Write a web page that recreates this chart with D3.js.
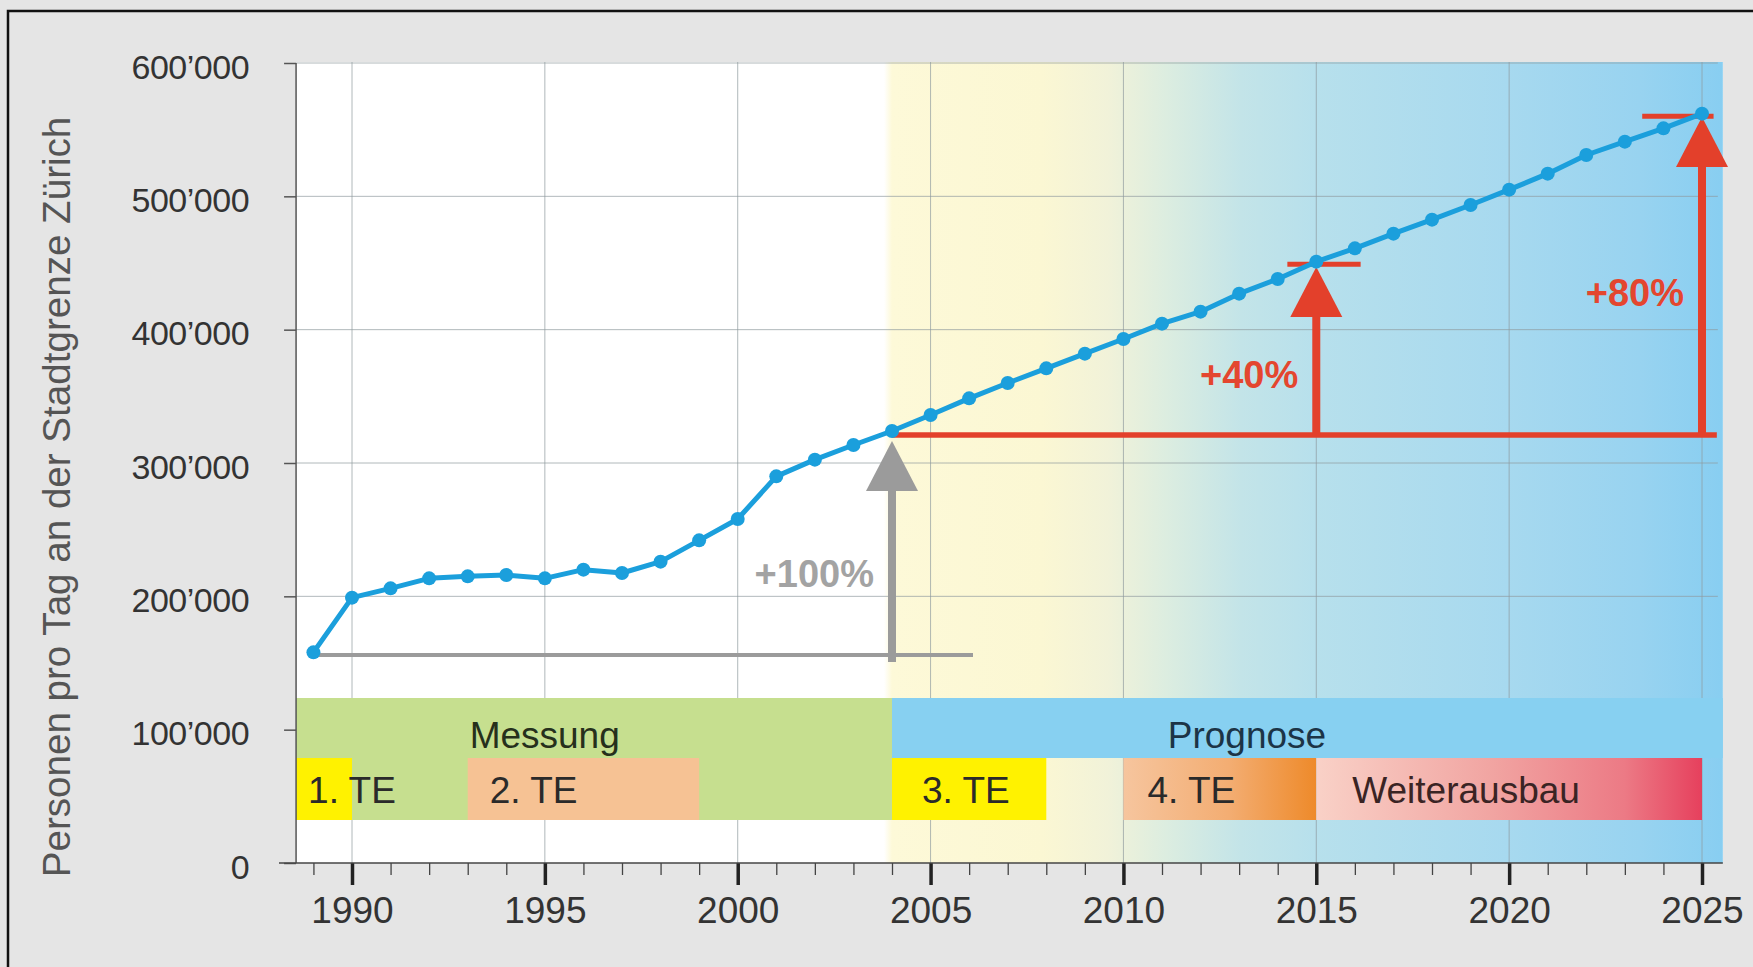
<!DOCTYPE html>
<html>
<head>
<meta charset="utf-8">
<script src="https://cdn.jsdelivr.net/npm/d3@7"></script>
<style>
  body { margin: 0; background: #e5e5e5; }
  svg { display: block; }
  text { font-family: "Liberation Sans", Arial, sans-serif; }
</style>
</head>
<body>
<div id="chart"></div>
<script>
// --- data ---
const years = d3.range(1989, 2026);
const persons = [158000, 199000, 206000, 213500, 215000, 216000, 213500, 220000, 217500, 226000,
  242000, 258000, 290000, 302500, 313500, 324000, 336000, 348500, 360000, 371000,
  382000, 393000, 404500, 413500, 427000, 438000, 451000, 461000, 472000, 482500,
  493500, 505000, 517000, 531000, 541000, 551000, 562000];

const yTicks = [0, 100000, 200000, 300000, 400000, 500000, 600000];
const xMajor = [1990, 1995, 2000, 2005, 2010, 2015, 2020, 2025];
const xMinor = d3.range(1989, 2025);

const phaseNames = ["Messung", "Prognose"];
const phaseFrom = [1988.55, 2004];
const phaseTo = [2004, 2025.54];
const phaseLabelYear = [1993.05, 2011.15];

const stageNames = ["1. TE", "2. TE", "3. TE", "4. TE", "Weiterausbau"];
const stageFrom = [1988.55, 1993, 2004, 2010, 2015];
const stageTo = [1990, 1999, 2008, 2015, 2025];

// growth annotations
const grayBase = 156000;           // 1989 level
const redBase = 321000;            // 2004 level
const arrowYears = [2004, 2015, 2025];
const arrowTips = [316500, 447000, 559500];
const arrowLabels = ["+100%", "+40%", "+80%"];
const arrowLabelValues = [207000, 356000, 417500];
const capValues = [449000, 560000];
const capFrom = [2014.25, 2023.45];
const capTo = [2016.15, 2025.3];

// --- layout ---
const W = 1753, H = 967;
const plotTop = 62;
const bandTop = 698, bandMid = 758, bandBottom = 820;
const RED = "#e3402b", GRAY = "#9b9b9b", BLUE = "#1b9fdc";

const x = d3.scaleLinear().domain([1990, 2025]).range([352, 1702]);
const y = d3.scaleLinear().domain([0, 600000]).range([863, 63]);
const plotL = x(1988.55), plotR = x(2025.54);

const svg = d3.select("#chart").append("svg")
  .attr("width", W).attr("height", H);

svg.append("rect").attr("width", W).attr("height", H).attr("fill", "#e5e5e5");
svg.append("rect")
  .attr("x", 8).attr("y", 11).attr("width", W + 20).attr("height", H + 20)
  .attr("fill", "none").attr("stroke", "#111").attr("stroke-width", 2.5);

const defs = svg.append("defs");
function gradient(id, stops) {
  const g = defs.append("linearGradient").attr("id", id)
    .attr("x1", 0).attr("x2", 1).attr("y1", 0).attr("y2", 0);
  stops.forEach(s => g.append("stop").attr("offset", s[0]).attr("stop-color", s[1]));
}
gradient("bgGrad", [[0, "#fdf9d8"], [0.18, "#fbf7d3"], [0.26, "#f1f2d9"], [0.33, "#dcede0"],
  [0.42, "#c3e4e8"], [0.51, "#b7e0ec"], [0.74, "#a7d9ef"], [0.9, "#98d3f0"], [1, "#88cef1"]]);
gradient("edgeGrad", [[0, "#ffffff"], [1, "#fdf9d8"]]);
gradient("te4Grad", [[0, "#f6c59e"], [0.55, "#f3ad72"], [1, "#ee8a2a"]]);
gradient("weiterGrad", [[0, "#f9d1c7"], [0.45, "#f1a5a2"], [0.8, "#ec7a85"], [1, "#e6405d"]]);

// plot background
svg.append("rect")
  .attr("x", plotL).attr("y", plotTop)
  .attr("width", plotR - plotL).attr("height", y(0) - plotTop)
  .attr("fill", "#ffffff");
svg.append("rect")
  .attr("x", x(2004)).attr("y", plotTop)
  .attr("width", plotR - x(2004)).attr("height", y(0) - plotTop)
  .attr("fill", "url(#bgGrad)");
svg.append("rect")
  .attr("x", x(2004) - 8).attr("y", plotTop)
  .attr("width", 8).attr("height", y(0) - plotTop)
  .attr("fill", "url(#edgeGrad)");

// grid
const grid = svg.append("g").attr("stroke", "#8f9a9e").attr("stroke-opacity", 0.7).attr("stroke-width", 1);
grid.selectAll(".vg").data(xMajor).join("line")
  .attr("x1", d => x(d)).attr("x2", d => x(d))
  .attr("y1", plotTop).attr("y2", y(0));
grid.selectAll(".hg").data(yTicks.slice(1)).join("line")
  .attr("x1", plotL).attr("x2", plotR - 5)
  .attr("y1", d => y(d)).attr("y2", d => y(d));

// phase bands
const phaseFill = ["#c6df8f", "#87d0f1"];
phaseNames.forEach((name, i) => {
  svg.append("rect")
    .attr("x", x(phaseFrom[i])).attr("y", bandTop)
    .attr("width", x(phaseTo[i]) - x(phaseFrom[i]))
    .attr("height", (i === 0 ? bandBottom : bandMid) - bandTop)
    .attr("fill", phaseFill[i]);
});

const stageFill = ["#fff200", "#f6c294", "#fff200", "url(#te4Grad)", "url(#weiterGrad)"];
stageNames.forEach((name, i) => {
  svg.append("rect")
    .attr("x", x(stageFrom[i])).attr("y", bandMid)
    .attr("width", x(stageTo[i]) - x(stageFrom[i]))
    .attr("height", bandBottom - bandMid)
    .attr("fill", stageFill[i]);
});

phaseNames.forEach((name, i) => {
  svg.append("text")
    .attr("x", x(phaseLabelYear[i])).attr("y", 748)
    .attr("font-size", 37)
    .attr("fill", i === 0 ? "#26301c" : "#1c3446")
    .text(name);
});

const stagePad = { "1. TE": 12, "2. TE": 22, "3. TE": 30, "4. TE": 24, "Weiterausbau": 36 };
stageNames.forEach((name, i) => {
  svg.append("text")
    .attr("x", x(stageFrom[i]) + stagePad[name]).attr("y", 803)
    .attr("font-size", 37)
    .attr("fill", i === 4 ? "#3a2424" : "#2a2a2a")
    .text(name);
});

// axes
const yAxis = svg.append("g")
  .attr("transform", `translate(${plotL},0)`)
  .call(d3.axisLeft(y).tickValues(yTicks).tickSize(12).tickPadding(35)
    .tickFormat(d => d === 0 ? "0" : d3.format(",")(d).replace(/,/g, "\u2019")));
yAxis.select(".domain").remove();
yAxis.selectAll(".tick line").attr("stroke", "#555").attr("stroke-width", 1.5);
yAxis.selectAll(".tick text").attr("font-size", 34).attr("fill", "#333")
  .attr("dy", "0.45em").attr("letter-spacing", -0.5)
  .style("font-family", '"Liberation Sans", Arial, sans-serif');
svg.append("line")
  .attr("x1", plotL).attr("x2", plotL).attr("y1", y(600000)).attr("y2", y(0))
  .attr("stroke", "#555").attr("stroke-width", 1.5);

const xMinorAxis = svg.append("g")
  .attr("transform", `translate(0,${y(0)})`)
  .call(d3.axisBottom(x).tickValues(xMinor).tickSize(12).tickFormat(""));
xMinorAxis.select(".domain").remove();
xMinorAxis.selectAll(".tick line").attr("stroke", "#444").attr("stroke-width", 1.3);

const xAxis = svg.append("g")
  .attr("transform", `translate(0,${y(0)})`)
  .call(d3.axisBottom(x).tickValues(xMajor).tickSize(22).tickPadding(12).tickFormat(d3.format("d")));
xAxis.select(".domain").remove();
xAxis.selectAll(".tick line").attr("stroke", "#222").attr("stroke-width", 3.5);
xAxis.selectAll(".tick text").attr("font-size", 37).attr("fill", "#333")
  .style("font-family", '"Liberation Sans", Arial, sans-serif');
svg.append("line")
  .attr("x1", 279).attr("x2", plotR).attr("y1", y(0)).attr("y2", y(0))
  .attr("stroke", "#444").attr("stroke-width", 1.5);

// y title
svg.append("text")
  .attr("transform", `translate(70,497) rotate(-90)`)
  .attr("text-anchor", "middle")
  .attr("font-size", 38.6)
  .attr("fill", "#555")
  .text("Personen pro Tag an der Stadtgrenze Zürich");

// growth annotations
svg.append("line")
  .attr("x1", x(1989)).attr("x2", x(2006.1))
  .attr("y1", y(grayBase)).attr("y2", y(grayBase))
  .attr("stroke", GRAY).attr("stroke-width", 4);
svg.append("line")
  .attr("x1", x(2004)).attr("x2", plotR - 6)
  .attr("y1", y(redBase)).attr("y2", y(redBase))
  .attr("stroke", RED).attr("stroke-width", 5.5);

const headW = 52, headH = 50;
arrowYears.forEach((yr, i) => {
  const col = i === 0 ? GRAY : RED;
  const ax = x(yr);
  const bottom = i === 0 ? y(grayBase) + 7 : y(redBase);
  const tip = y(arrowTips[i]);
  svg.append("line")
    .attr("x1", ax).attr("x2", ax)
    .attr("y1", bottom).attr("y2", tip + headH - 2)
    .attr("stroke", col).attr("stroke-width", 8);
  svg.append("path")
    .attr("d", `M${ax},${tip} L${ax + headW / 2},${tip + headH} L${ax - headW / 2},${tip + headH} Z`)
    .attr("fill", col);
  svg.append("text")
    .attr("x", ax - 18).attr("y", y(arrowLabelValues[i]))
    .attr("text-anchor", "end")
    .attr("font-size", 38).attr("font-weight", "bold")
    .attr("fill", i === 0 ? "#a3a3a3" : "#e4462f")
    .text(arrowLabels[i]);
});
capValues.forEach((v, i) => {
  svg.append("line")
    .attr("x1", x(capFrom[i])).attr("x2", x(capTo[i]))
    .attr("y1", y(v)).attr("y2", y(v))
    .attr("stroke", RED).attr("stroke-width", 5);
});

// series
const line = d3.line().x((d, i) => x(years[i])).y(d => y(d));
svg.append("path")
  .datum(persons)
  .attr("d", line)
  .attr("fill", "none")
  .attr("stroke", BLUE)
  .attr("stroke-width", 5)
  .attr("stroke-linejoin", "round");
svg.selectAll(".pt").data(persons).join("circle")
  .attr("class", "pt")
  .attr("cx", (d, i) => x(years[i]))
  .attr("cy", d => y(d))
  .attr("r", 7)
  .attr("fill", BLUE);
</script>
</body>
</html>
